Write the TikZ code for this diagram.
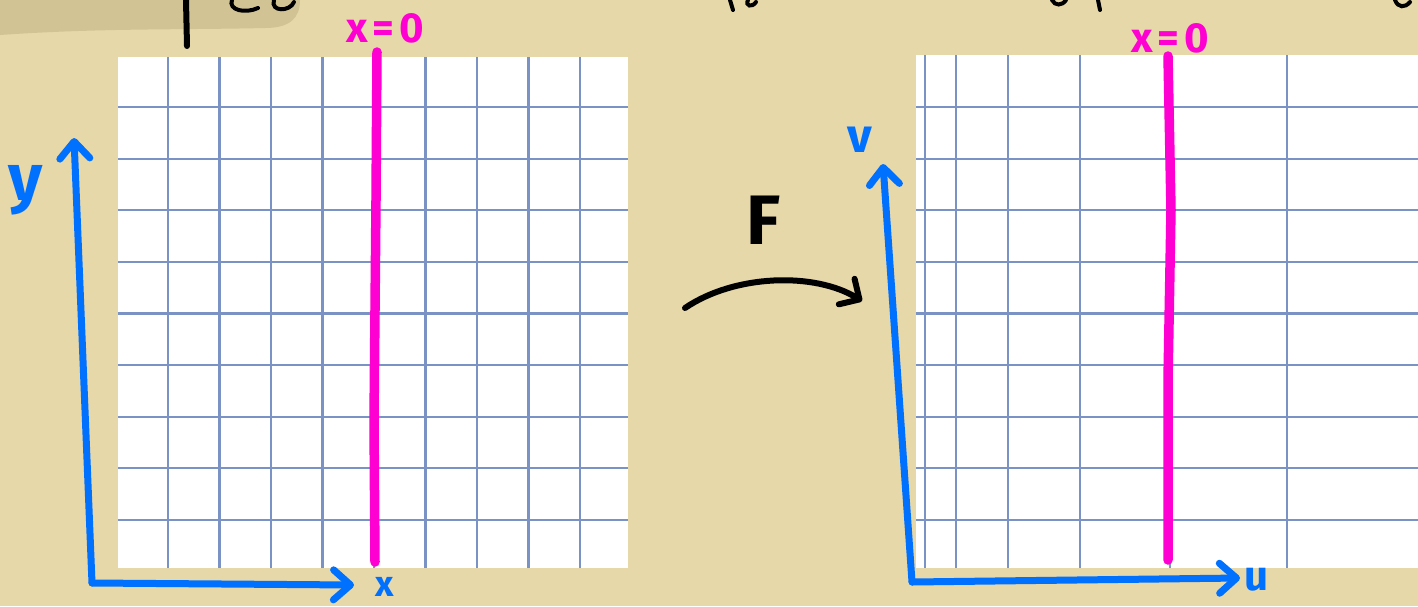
\documentclass[tikz,border=0pt]{standalone}
\usepackage{fontspec}
\setmainfont{Fira Sans}
\usetikzlibrary{arrows.meta}
\definecolor{paper}{RGB}{231,216,170}
\definecolor{blob}{RGB}{209,195,148}
\definecolor{gridblue}{RGB}{122,146,196}
\definecolor{axisblue}{RGB}{0,112,255}
\definecolor{hotpink}{RGB}{255,0,210}
\tikzset{
  sheet/.style={fill=white},
  gridline/.style={gridblue,line width=2.2pt},
  zeroline/.style={hotpink,line width=9.5pt,line cap=round},
  axis/.style={axisblue,line width=7pt,line cap=round,line join=round,
    -{Straight Barb[length=17pt,width=30pt,round]}},
  maparrow/.style={black,line width=6pt,line cap=round,
    -{Straight Barb[length=15pt,width=30pt,round]}},
  ink/.style={black,line width=6pt,line cap=round},
  pinklbl/.style={hotpink,font=\fontsize{42}{42}\selectfont\bfseries,inner sep=0pt},
  bluelbl/.style={axisblue,inner sep=0pt},
  inklbl/.style={black,font=\fontsize{70}{70}\selectfont\bfseries,inner sep=0pt},
}
\begin{document}
\begin{tikzpicture}[x=1pt,y=-1pt]
  \useasboundingbox (0,0) rectangle (1418,606);
  \fill[paper] (0,0) rectangle (1418,606);
  % scraps of the title, cut off by the top edge
  \fill[blob] (0,0) -- (300,0) .. controls (300,18) and (290,28) .. (265,28)
    .. controls (180,30) and (100,28) .. (0,35) -- cycle;
  \draw[ink] (186,0) -- (187,46);
  \draw[ink,line width=4pt] (232,0) .. controls (228,10) and (245,14) .. (258,8);
  \draw[ink,line width=4pt] (274,0) .. controls (270,12) and (290,12) .. (294,2);
  \draw[ink,line width=4pt] (730,0) -- (733,10);
  \draw[ink,line width=4pt] (748,0) .. controls (745,6) and (752,8) .. (756,2);
  \draw[ink,line width=4pt] (1052,0) .. controls (1055,6) and (1062,6) .. (1066,0);
  \draw[ink,line width=4pt] (1098,0) -- (1100,10);
  \draw[ink,line width=4pt] (1395,0) .. controls (1398,8) and (1405,8) .. (1410,2);
  % left sheet, square grid
  \fill[sheet] (118,57) rectangle (628,568);
  \foreach \i in {1,...,9} {
    \draw[gridline] ({116.5+51.5*\i},57) -- ({116.5+51.5*\i},568);
    \draw[gridline] (118,{55.4+51.6*\i}) -- (628,{55.4+51.6*\i});
  }
  % right sheet, image grid
  \fill[sheet] (916,55) rectangle (1418,568);
  \foreach \u in {925,956,1008,1080,1170,1287}
    \draw[gridline] (\u,55) -- (\u,568);
  \foreach \j in {1,...,9}
    \draw[gridline] (916,{55.4+51.6*\j}) -- (1418,{55.4+51.6*\j});
  % the line x=0 and its image
  \draw[zeroline] (377,52) -- (376,200) -- (374,420) -- (375,562);
  \draw[zeroline] (1168,56) -- (1171,210) -- (1168,380) -- (1168,560);
  \node[pinklbl] (zero-left) at (385,28) {x\hspace{5pt}=\hspace{5pt}0};
  \node[pinklbl] (zero-right) at (1170,38) {x\hspace{5pt}=\hspace{5pt}0};
  % left axes
  \coordinate (xy-origin) at (92,583);
  \coordinate (y-tip) at (74,138);
  \coordinate (x-tip) at (354,585);
  \draw[axis] (xy-origin) -- (y-tip);
  \draw[axis] (xy-origin) -- (x-tip);
  \node[bluelbl,font=\fontsize{66}{66}\selectfont\bfseries] (y-lbl) at (26,190) {y};
  \node[bluelbl,font=\fontsize{36}{36}\selectfont\bfseries] (x-lbl) at (385,587) {x};
  % right axes
  \coordinate (uv-origin) at (912,582);
  \coordinate (v-tip) at (883,164);
  \coordinate (u-tip) at (1240,578);
  \draw[axis] (uv-origin) -- (v-tip);
  \draw[axis] (uv-origin) -- (u-tip);
  \node[bluelbl,font=\fontsize{48}{48}\selectfont\bfseries] (v-lbl) at (860,140) {v};
  \node[bluelbl,font=\fontsize{42}{42}\selectfont\bfseries] (u-lbl) at (1256,580) {u};
  % the map F
  \coordinate (F-start) at (685,308);
  \coordinate (F-end) at (862,301);
  \draw[maparrow] (F-start) .. controls (735,274) and (815,272) .. (F-end);
  \node[inklbl] (F-lbl) at (764,220) {F};
\end{tikzpicture}
\end{document}
